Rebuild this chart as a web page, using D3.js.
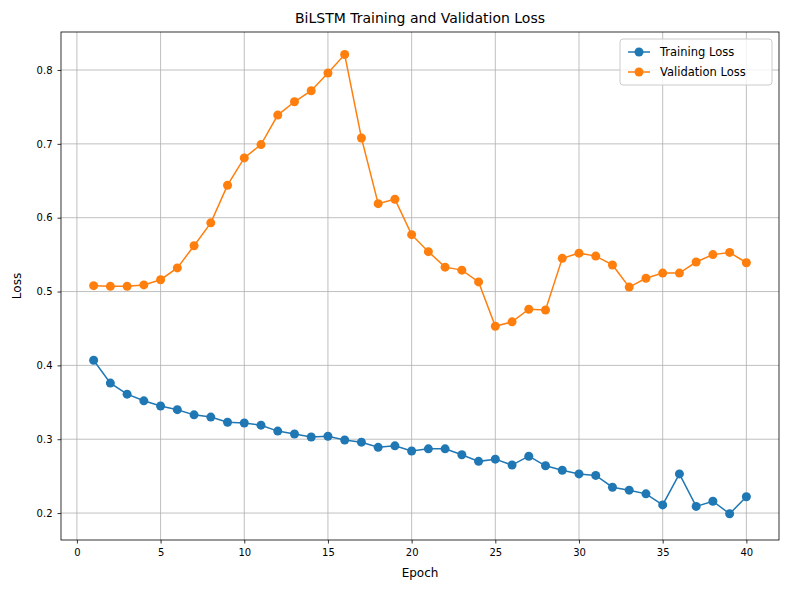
<!DOCTYPE html>
<html><head><meta charset="utf-8">
<script src="https://cdn.jsdelivr.net/npm/d3@7"></script>
<style>body{margin:0;background:#fff;font-family:"DejaVu Sans",sans-serif;}</style>
</head><body>
<script>
const epochs = d3.range(1, 41);
const trainLoss = [0.407,0.376,0.361,0.352,0.345,0.340,0.333,0.330,0.323,0.322,
  0.319,0.311,0.307,0.303,0.304,0.299,0.296,0.289,0.291,0.284,
  0.287,0.287,0.279,0.270,0.273,0.265,0.277,0.264,0.258,0.253,
  0.251,0.235,0.231,0.226,0.211,0.253,0.209,0.216,0.199,0.222];
const valLoss = [0.508,0.507,0.507,0.509,0.516,0.532,0.562,0.593,0.644,0.681,
  0.699,0.739,0.757,0.772,0.796,0.821,0.708,0.619,0.625,0.577,
  0.554,0.533,0.529,0.513,0.453,0.459,0.476,0.475,0.545,0.552,
  0.548,0.536,0.506,0.518,0.525,0.525,0.540,0.550,0.553,0.539];
const xTicks = [0,5,10,15,20,25,30,35,40];
const yTicks = [0.2,0.3,0.4,0.5,0.6,0.7,0.8];
const series = [
  {name:'Training Loss', values: trainLoss, color:'#1f77b4'},
  {name:'Validation Loss', values: valLoss, color:'#ff7f0e'}
];

const margin = {top: 32, right: 11, bottom: 50, left: 61};
const W = 790, H = 590;
const width = W - margin.left - margin.right;
const height = H - margin.top - margin.bottom;

const svg = d3.select('body').append('svg').attr('width', W).attr('height', H);
const g = svg.append('g').attr('transform', `translate(${margin.left},${margin.top})`);

const x = d3.scaleLinear().domain([-0.95, 41.95]).range([0, width]);
const y = d3.scaleLinear().domain([0.1635, 0.8515]).range([height, 0]);

// grid
g.selectAll('.vg').data(xTicks).enter().append('line')
  .attr('x1', d => x(d)).attr('x2', d => x(d)).attr('y1', 0).attr('y2', height)
  .attr('stroke', '#b0b0b0').attr('stroke-width', 0.8);
g.selectAll('.hg').data(yTicks).enter().append('line')
  .attr('y1', d => y(d)).attr('y2', d => y(d)).attr('x1', 0).attr('x2', width)
  .attr('stroke', '#b0b0b0').attr('stroke-width', 0.8);

const xAxis = g.append('g').attr('transform', `translate(0,${height})`)
  .call(d3.axisBottom(x).tickValues(xTicks).tickSize(3.5).tickPadding(5).tickFormat(d3.format('d')));
const yAxis = g.append('g')
  .call(d3.axisLeft(y).tickValues(yTicks).tickSize(3.5).tickPadding(5).tickFormat(d3.format('.1f')));
[xAxis, yAxis].forEach(a => {
  a.select('.domain').remove();
  a.selectAll('text').attr('font-size', 10).attr('fill', '#000').attr('font-family', 'DejaVu Sans');
  a.selectAll('line').attr('stroke', '#000').attr('stroke-width', 0.8);
});

g.append('rect').attr('width', width).attr('height', height)
  .attr('fill', 'none').attr('stroke', '#000').attr('stroke-width', 0.8);

const line = d3.line().x((d, i) => x(epochs[i])).y(d => y(d));
series.forEach(s => {
  g.append('path').datum(s.values).attr('d', line)
    .attr('fill', 'none').attr('stroke', s.color).attr('stroke-width', 1.5);
  g.selectAll(null).data(s.values).enter().append('circle')
    .attr('cx', (d, i) => x(epochs[i])).attr('cy', d => y(d)).attr('r', 4.5)
    .attr('fill', s.color);
});

svg.append('text').attr('x', margin.left + width / 2).attr('y', 23)
  .attr('text-anchor', 'middle').attr('font-size', 14).text('BiLSTM Training and Validation Loss');
svg.append('text').attr('x', margin.left + width / 2).attr('y', 577)
  .attr('text-anchor', 'middle').attr('font-size', 12).text('Epoch');
svg.append('text').attr('transform', `translate(21,${margin.top + height / 2}) rotate(-90)`)
  .attr('text-anchor', 'middle').attr('font-size', 12).text('Loss');

// legend
const lg = g.append('g').attr('transform', `translate(${width - 159},7)`);
lg.append('rect').attr('width', 152).attr('height', 46).attr('rx', 3)
  .attr('fill', '#fff').attr('fill-opacity', 0.8).attr('stroke', '#ccc');
series.forEach((s, i) => {
  const e = lg.append('g').attr('transform', `translate(8,${13 + i * 20})`);
  e.append('line').attr('x1', 0).attr('x2', 22).attr('stroke', s.color).attr('stroke-width', 1.5);
  e.append('circle').attr('cx', 11).attr('r', 4.5).attr('fill', s.color);
  e.append('text').attr('x', 32).attr('dy', '0.35em').attr('font-size', 11.5).text(s.name);
});
</script>
</body></html>
